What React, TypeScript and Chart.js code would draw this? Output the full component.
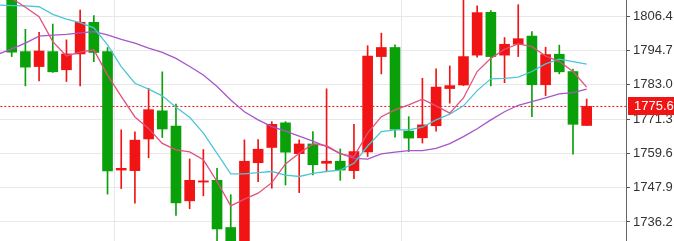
import React, { useEffect, useRef } from "react";
import { Chart, registerables } from "chart.js";

Chart.register(...registerables);

const openP = [1815.0, 1794.3, 1789.2, 1794.3, 1788.1, 1793.5, 1804.3, 1794.3, 1753.9, 1753.7, 1764.5, 1774.1, 1768.9, 1743.4, 1749.8, 1750.4, 1734.3, 1728.8, 1756.4, 1761.6, 1770.0, 1759.5, 1762.8, 1756.2, 1756.9, 1753.7, 1760.1, 1792.6, 1795.7, 1767.2, 1764.9, 1769.0, 1781.7, 1782.9, 1793.1, 1807.7, 1793.1, 1796.8, 1799.6, 1783.0, 1793.4, 1787.5, 1769.1];
const closeP = [1794.1, 1789.0, 1794.5, 1787.4, 1793.5, 1804.3, 1794.0, 1753.6, 1754.5, 1764.1, 1774.5, 1767.9, 1742.7, 1750.4, 1750.2, 1733.8, 1728.5, 1756.9, 1761.0, 1769.5, 1760.0, 1762.8, 1755.7, 1756.9, 1753.9, 1760.2, 1792.8, 1795.7, 1767.8, 1764.8, 1769.3, 1782.2, 1782.7, 1792.6, 1807.6, 1792.6, 1796.8, 1798.7, 1783.0, 1793.3, 1787.4, 1769.5, 1775.6];
const highP = [1818.0, 1801.9, 1800.9, 1803.7, 1798.3, 1808.5, 1806.6, 1795.7, 1767.6, 1766.9, 1781.8, 1787.4, 1776.4, 1757.7, 1760.9, 1754.5, 1745.5, 1764.2, 1764.3, 1770.4, 1770.4, 1764.2, 1767.0, 1781.6, 1761.1, 1769.5, 1796.3, 1800.6, 1796.6, 1772.1, 1785.2, 1788.4, 1789.4, 1813.0, 1809.9, 1808.3, 1799.1, 1810.3, 1801.1, 1795.8, 1796.5, 1788.3, 1778.1];
const lowP = [1792.6, 1782.6, 1784.3, 1787.2, 1784.1, 1782.6, 1790.9, 1745.7, 1747.6, 1742.6, 1758.1, 1765.0, 1738.4, 1740.7, 1745.1, 1728.0, 1727.0, 1726.5, 1749.9, 1747.7, 1748.8, 1746.2, 1752.2, 1753.4, 1750.4, 1751.0, 1758.5, 1786.7, 1765.1, 1760.2, 1763.1, 1767.2, 1776.7, 1782.7, 1792.4, 1782.6, 1783.7, 1792.6, 1772.1, 1779.3, 1786.7, 1759.3, 1769.1];

// moving averages, starting one bar before the first visible candle
const maFast = [1815.5, 1812.5, 1809.4, 1806.2, 1797.7, 1792.8, 1794.1, 1794.9, 1786.3, 1779.0, 1772.0, 1768.1, 1763.0, 1760.8, 1760.1, 1757.4, 1750.0, 1741.7, 1744.0, 1746.0, 1749.6, 1756.0, 1759.6, 1762.8, 1762.2, 1759.4, 1758.5, 1766.5, 1772.1, 1774.4, 1776.1, 1778.1, 1775.8, 1773.3, 1778.5, 1787.5, 1792.0, 1795.1, 1796.9, 1796.0, 1792.8, 1790.9, 1787.5, 1782.2];
const maMid = [1810.2, 1810.0, 1809.9, 1809.6, 1807.0, 1805.4, 1804.2, 1802.4, 1796.6, 1789.2, 1783.5, 1781.5, 1779.2, 1775.3, 1771.9, 1766.5, 1759.6, 1752.6, 1752.6, 1753.0, 1753.4, 1752.2, 1751.7, 1752.8, 1753.4, 1753.9, 1756.2, 1762.1, 1767.0, 1767.6, 1767.6, 1768.5, 1771.0, 1773.0, 1775.8, 1781.0, 1785.0, 1785.2, 1785.6, 1787.5, 1790.1, 1791.7, 1790.9, 1790.0];
const maSlow = [1793.4, 1795.2, 1797.2, 1799.6, 1799.9, 1800.2, 1800.7, 1801.1, 1800.0, 1798.5, 1797.2, 1795.5, 1794.0, 1792.0, 1789.2, 1786.3, 1782.4, 1777.8, 1773.8, 1771.0, 1768.7, 1767.2, 1765.5, 1763.8, 1761.9, 1759.6, 1757.9, 1757.6, 1759.4, 1760.0, 1760.5, 1760.5, 1761.3, 1762.9, 1765.3, 1768.0, 1771.0, 1773.8, 1776.0, 1777.2, 1778.5, 1779.9, 1780.3, 1781.5];

const yTicks = [1736.2, 1747.9, 1759.6, 1771.3, 1783.0, 1794.7, 1806.4];
const xGridAt = [18, 39];

const UP = "#f01414";
const DOWN = "#0aa00a";
const FONT = "'Liberation Sans', Arial, sans-serif";

export default function App() {
  const ref = useRef<HTMLCanvasElement>(null);

  useEffect(() => {
    document.body.style.margin = "0";
    const canvas = ref.current;
    if (!canvas) return;
    const n = closeP.length;
    const last = closeP[n - 1];
    const colors = closeP.map((c, i) => (c >= openP[i] ? UP : DOWN));

    const priceLabel = {
      id: "priceLabel",
      afterDraw(chart: any) {
        const { ctx, chartArea, scales } = chart;
        const y = scales.y.getPixelForValue(last);
        ctx.save();
        ctx.fillStyle = UP;
        ctx.fillRect(chartArea.right + 2, Math.round(y) - 9, 60, 18);
        ctx.fillStyle = "#ffffff";
        ctx.font = `13px ${FONT}`;
        ctx.textBaseline = "middle";
        ctx.textAlign = "left";
        ctx.fillText(last.toFixed(1), chartArea.right + 8, Math.round(y) + 0.5);
        ctx.restore();
      },
    };

    const chart = new Chart(canvas, {
      type: "bar",
      data: {
        datasets: [
          {
            type: "line",
            data: [
              { x: -2, y: last },
              { x: 50, y: last },
            ],
            borderColor: UP,
            borderWidth: 1,
            borderDash: [2, 2],
            pointRadius: 0,
            order: 10,
          } as any,
          {
            type: "bar",
            data: lowP.map((l, i) => ({ x: i, y: [l, highP[i]] })),
            backgroundColor: colors,
            borderWidth: 0,
            barThickness: 1,
            grouped: false,
            order: 6,
          } as any,
          {
            type: "bar",
            data: openP.map((o, i) => ({ x: i, y: [o, closeP[i]] })),
            backgroundColor: colors,
            borderWidth: 0,
            barThickness: 10,
            grouped: false,
            order: 5,
          } as any,
          {
            type: "line",
            data: maSlow.map((v, i) => ({ x: i - 1, y: v })),
            borderColor: "#a855c8",
            borderWidth: 1.3,
            pointRadius: 0,
            tension: 0,
            order: 3,
          } as any,
          {
            type: "line",
            data: maMid.map((v, i) => ({ x: i - 1, y: v })),
            borderColor: "#4cc6d6",
            borderWidth: 1.3,
            pointRadius: 0,
            tension: 0,
            order: 2,
          } as any,
          {
            type: "line",
            data: maFast.map((v, i) => ({ x: i - 1, y: v })),
            borderColor: "#e2507e",
            borderWidth: 1.3,
            pointRadius: 0,
            tension: 0,
            order: 1,
          } as any,
        ],
      },
      options: {
        animation: false,
        responsive: false,
        maintainAspectRatio: false,
        layout: { padding: 0 },
        plugins: { legend: { display: false }, tooltip: { enabled: false } },
        scales: {
          x: {
            type: "linear",
            min: -0.8546,
            max: 44.872,
            offset: false,
            afterBuildTicks: (s: any) => {
              s.ticks = xGridAt.map((v) => ({ value: v }));
            },
            afterFit: (s: any) => {
              s.height = 0;
              s.paddingLeft = 0;
              s.paddingRight = 0;
              s.paddingTop = 0;
              s.paddingBottom = 0;
            },
            ticks: { display: false },
            grid: { color: "#e3e8ef", drawTicks: false, lineWidth: 1 },
            border: { display: false },
          },
          y: {
            type: "linear",
            position: "right",
            min: 1729.7,
            max: 1811.9,
            afterBuildTicks: (s: any) => {
              s.ticks = yTicks.map((v) => ({ value: v }));
            },
            afterFit: (s: any) => {
              s.width = 48;
              s.paddingTop = 0;
              s.paddingBottom = 0;
              s.paddingLeft = 0;
              s.paddingRight = 0;
            },
            ticks: {
              callback: (v: any) => Number(v).toFixed(1),
              color: "#333333",
              font: { family: FONT, size: 13 },
              padding: 3,
            },
            grid: { color: "#e8e8e8", tickColor: "#555555", tickLength: 4, lineWidth: 1 },
            border: { display: true, color: "#666666", width: 1 },
          },
        },
      } as any,
      plugins: [priceLabel],
    });
    return () => chart.destroy();
  }, []);

  return (
    <div style={{ width: 674, height: 241 }}>
      <canvas ref={ref} width={674} height={241} />
    </div>
  );
}
